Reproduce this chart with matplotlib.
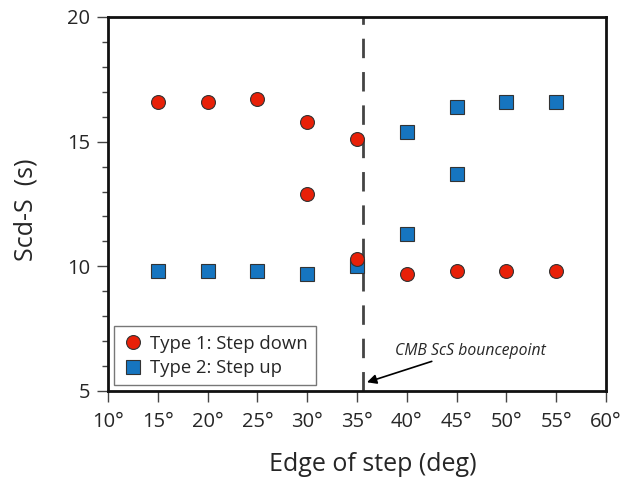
import matplotlib
matplotlib.use("Agg")
import matplotlib.pyplot as plt

plt.rcParams['font.family'] = ['Open Sans', 'DejaVu Sans']

# Type 1: step down
down_x = [15, 20, 25, 30, 30, 35, 35, 40, 45, 50, 55]
down_y = [16.6, 16.6, 16.7, 15.8, 12.9, 15.1, 10.3, 9.7, 9.8, 9.8, 9.8]

# Type 2: step up
up_x = [15, 20, 25, 30, 35, 40, 40, 45, 45, 50, 55]
up_y = [9.8, 9.8, 9.8, 9.7, 10.0, 15.4, 11.3, 16.4, 13.7, 16.6, 16.6]

xticks = [10, 15, 20, 25, 30, 35, 40, 45, 50, 55, 60]
xtick_labels = [f"{v}\u00b0" for v in xticks]
yticks = [5, 10, 15, 20]
bounce_x = 35.6

text_color = '#262626'

fig = plt.figure(figsize=(6.27, 4.82), dpi=100)
ax = fig.add_axes([108 / 627, 1 - 391 / 482, (606 - 108) / 627, (391 - 17) / 482])

ax.axvline(bounce_x, color='#444444', lw=2, dashes=(7, 5), zorder=1)

ax.plot(up_x, up_y, ls='none', marker='s', ms=9.5, mfc='#1675c0', mec='#333333',
        mew=0.8, label='Type 2: Step up', zorder=3)
ax.plot(down_x, down_y, ls='none', marker='o', ms=10, mfc='#e82008', mec='#333333',
        mew=0.8, label='Type 1: Step down', zorder=4)

ax.set_xlim(10, 60)
ax.set_ylim(5, 20)
ax.set_xticks(xticks)
ax.set_xticklabels(xtick_labels)
ax.set_yticks(yticks)
ax.set_yticks(range(5, 21), minor=True)
ax.tick_params(axis='both', which='major', direction='out', length=8, width=1,
               labelsize=14.5, color='#444444', labelcolor=text_color, pad=5)
ax.tick_params(axis='x', which='major', pad=7)
ax.tick_params(axis='y', which='minor', direction='out', length=4, width=1, color='#444444')
for s in ax.spines.values():
    s.set_linewidth(2)
    s.set_color('#111111')

ax.set_xlabel('Edge of step (deg)', fontsize=18, color=text_color)
ax.set_ylabel('Scd-S  (s)', fontsize=18, color=text_color)
ax.xaxis.set_label_coords(0.532, -0.162)
ax.yaxis.set_label_coords(-0.14, 0.484)

ax.annotate('CMB ScS bouncepoint', xy=(36.0, 5.35), xytext=(46.4, 6.3),
            fontsize=11.3, style='italic', ha='center', va='bottom', color=text_color,
            arrowprops=dict(arrowstyle='-|>', color='black', lw=1.2,
                            mutation_scale=14, shrinkA=0, shrinkB=0,
                            relpos=(0.3, 0.0)))

handles, labels = ax.get_legend_handles_labels()
leg = ax.legend(handles[::-1], labels[::-1], loc='lower left', bbox_to_anchor=(0.012, 0.015),
                fontsize=13.3, frameon=True, fancybox=False, edgecolor='#555555',
                handletextpad=0.3, borderpad=0.45, labelspacing=0.35, handlelength=1.2,
                borderaxespad=0, labelcolor=text_color)
leg.get_frame().set_linewidth(1)

fig.savefig('out.png', dpi=100)
